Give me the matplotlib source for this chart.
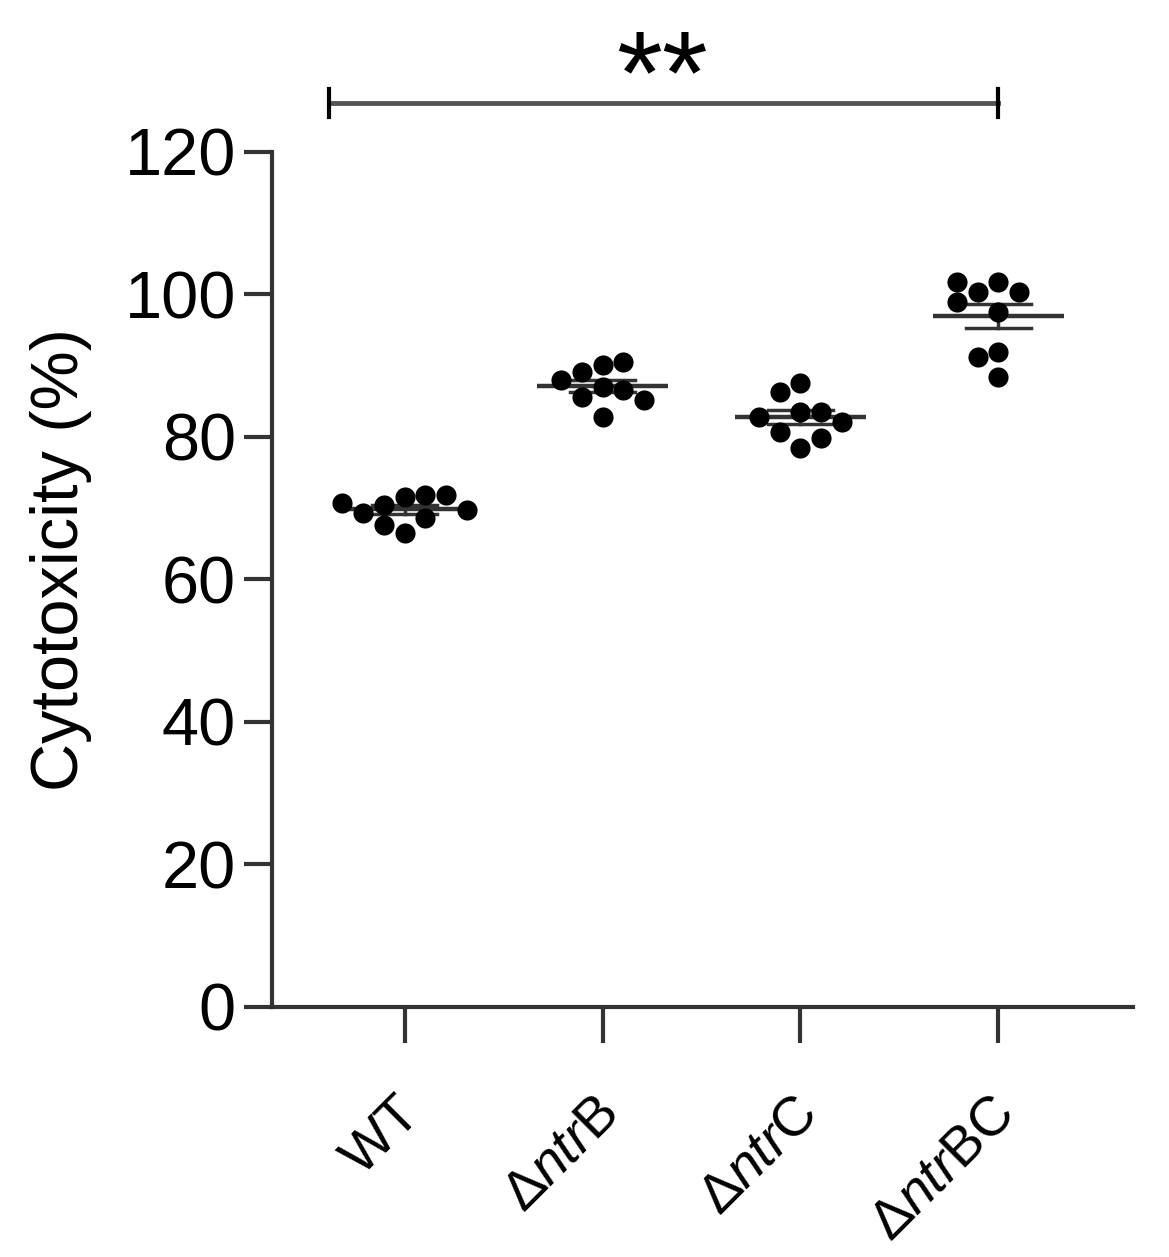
import numpy as np
import matplotlib
matplotlib.use("Agg")
import matplotlib.pyplot as plt
from matplotlib.transforms import ScaledTranslation

plt.rcParams['font.family'] = ['Liberation Sans', 'DejaVu Sans']
plt.rcParams['mathtext.fontset'] = 'custom'
plt.rcParams['mathtext.rm'] = 'Liberation Sans'
plt.rcParams['mathtext.it'] = 'Liberation Sans:italic'

categories = ['WT', 'Δ$\\mathit{ntr}$B', 'Δ$\\mathit{ntr}$C', 'Δ$\\mathit{ntr}$BC']
wt = [71.6, 70.5, 71.9, 69.3, 66.5, 71.9, 68.6, 70.7, 67.6, 69.8]
ntrB = [87.0, 89.1, 85.6, 82.8, 90.1, 86.6, 90.5, 88.0, 85.2]
ntrC = [83.5, 80.7, 87.6, 83.5, 78.5, 86.3, 82.8, 79.9, 82.1]
ntrBC = [101.8, 100.4, 91.9, 88.4, 100.4, 97.5, 91.2, 101.8, 98.9]
groups = [wt, ntrB, ntrC, ntrBC]
yticks = [0, 20, 40, 60, 80, 100, 120]
sig_label = '**'


def swarm_offsets(vals, step=0.105, ythr=2.8):
    placed = []
    offs = []
    order = [0, -1, 1, -2, 2, -3, 3, -4, 4, -5, 5]
    for v in vals:
        for k in order:
            if all(not (pk == k and abs(pv - v) < ythr) for pk, pv in placed):
                placed.append((k, v))
                offs.append(k * step)
                break
    return np.array(offs)


fig = plt.figure(figsize=(11.69, 12.57), dpi=100)
ax = fig.add_axes([0.2327, 0.1989, 0.7365, 0.6802])

line_col = '#333333'
for i, vals in enumerate(groups):
    vals = np.array(vals)
    m = vals.mean()
    sem = vals.std(ddof=1) / np.sqrt(len(vals))
    ax.plot([i - 0.33, i + 0.33], [m, m], color=line_col, lw=3.2, zorder=2, solid_capstyle='butt')
    ax.plot([i, i], [m - sem, m + sem], color=line_col, lw=2.5, zorder=2)
    for s in (m - sem, m + sem):
        ax.plot([i - 0.165, i + 0.165], [s, s], color=line_col, lw=2.5, zorder=2)
    ax.scatter(i + swarm_offsets(vals), vals, s=210, color='black', zorder=3, linewidths=0)

ax.set_xlim(-0.67, 3.68)
ax.set_ylim(0, 120)
ax.set_yticks(yticks)
ax.set_xticks(range(len(categories)))
ax.tick_params(axis='y', labelsize=48, length=20, width=3, color='#333333', pad=6)
ax.tick_params(axis='x', length=26, width=3, color='#333333', pad=22)
ax.set_xticklabels(categories, rotation=45, ha='right', rotation_mode='anchor', fontsize=40)
off = ScaledTranslation(-7 / 72, -10 / 72, fig.dpi_scale_trans)
for lab in ax.get_xticklabels():
    lab.set_transform(lab.get_transform() + off)
for side in ('top', 'right'):
    ax.spines[side].set_visible(False)
for side in ('left', 'bottom'):
    ax.spines[side].set_linewidth(3)
    ax.spines[side].set_color('#333333')
ax.set_ylabel('Cytotoxicity (%)', fontsize=48)
ax.yaxis.set_label_coords(-0.209, 0.523)

# significance bracket
by = 126.9
ax.plot([-0.38, 3.0], [by, by], color='#555555', lw=3.5, clip_on=False)
for xx in (-0.38, 3.0):
    ax.plot([xx, xx], [by - 2.0, by + 2.0], color='black', lw=3, clip_on=False)
ax.text(1.3, 125.5, sig_label, ha='center', va='baseline', fontsize=85)

fig.savefig('out.png', dpi=100)
